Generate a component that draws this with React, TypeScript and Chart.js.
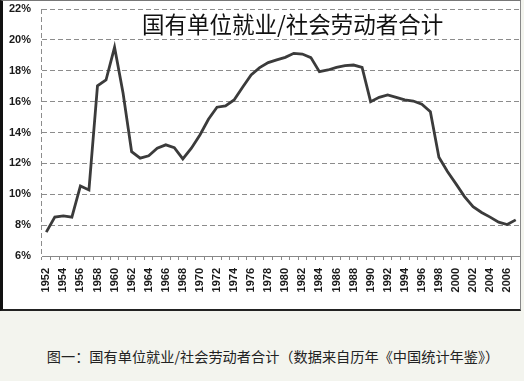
import React, { useEffect, useRef } from "react";
import { Chart, registerables } from "chart.js";

Chart.register(...registerables);

const TITLE = "国有单位就业/社会劳动者合计";
const CAPTION = "图一：国有单位就业/社会劳动者合计（数据来自历年《中国统计年鉴》）";

const years = [
  "1952", "1953", "1954", "1955", "1956", "1957", "1958", "1959", "1960", "1961",
  "1962", "1963", "1964", "1965", "1966", "1967", "1968", "1969", "1970", "1971",
  "1972", "1973", "1974", "1975", "1976", "1977", "1978", "1979", "1980", "1981",
  "1982", "1983", "1984", "1985", "1986", "1987", "1988", "1989", "1990", "1991",
  "1992", "1993", "1994", "1995", "1996", "1997", "1998", "1999", "2000", "2001",
  "2002", "2003", "2004", "2005", "2006", "2007",
];

const shares = [
  7.55, 8.52, 8.6, 8.52, 10.54, 10.28, 17.02, 17.4, 19.52, 16.54,
  12.76, 12.34, 12.49, 12.98, 13.2, 13.02, 12.29, 12.98, 13.84, 14.86,
  15.64, 15.72, 16.11, 16.93, 17.73, 18.2, 18.53, 18.7, 18.87, 19.13,
  19.08, 18.85, 17.94, 18.05, 18.22, 18.33, 18.37, 18.22, 16.0, 16.28,
  16.43, 16.28, 16.11, 16.04, 15.83, 15.35, 12.4, 11.47, 10.67, 9.85,
  9.2, 8.82, 8.52, 8.19, 8.04, 8.34,
];

const yMin = 6;
const yMax = 22;
const yStep = 2;

export default function App() {
  const canvasRef = useRef<HTMLCanvasElement | null>(null);

  useEffect(() => {
    if (!canvasRef.current) return;
    const chart = new Chart(canvasRef.current, {
      type: "line",
      data: {
        labels: years,
        datasets: [
          {
            data: shares,
            borderColor: "#3b3b3b",
            borderWidth: 2.8,
            pointRadius: 0,
            tension: 0,
            fill: false,
          },
        ],
      },
      options: {
        animation: false,
        responsive: true,
        maintainAspectRatio: false,
        layout: { padding: { top: 0, right: 0, bottom: 0, left: 0 } },
        plugins: {
          legend: { display: false },
          tooltip: { enabled: false },
          title: { display: false },
        },
        scales: {
          x: {
            type: "category",
            offset: true,
            grid: {
              offset: true,
              drawOnChartArea: true,
              drawTicks: true,
              tickLength: 4,
              color: (ctx: any) => (ctx.index === 0 ? "#8c8c8c" : "rgba(0,0,0,0)"),
              tickColor: "#888",
              tickBorderDash: [],
            },
            border: { color: "#888", width: 1, dash: [5, 3] },
            ticks: {
              autoSkip: false,
              minRotation: 90,
              maxRotation: 90,
              padding: 8,
              color: "#1a1a1a",
              font: { family: "'Liberation Sans', Arial, sans-serif", size: 11, weight: "bold" },
              callback: (_v: any, i: number) => (i % 2 === 0 ? years[i] : ""),
            },
            afterFit: (scale: any) => {
              scale.height = 53;
              scale.paddingLeft = 0;
              scale.paddingRight = 0;
            },
          },
          y: {
            min: yMin,
            max: yMax,
            grid: {
              color: "#8c8c8c",
              drawTicks: false,
            },
            border: { display: false, color: "#8c8c8c", dash: [5, 3], width: 1 },
            ticks: {
              stepSize: yStep,
              padding: 11,
              color: "#1a1a1a",
              font: { family: "'Liberation Sans', Arial, sans-serif", size: 11, weight: "bold" },
              callback: (v: any) => `${v}%`,
            },
            afterFit: (scale: any) => {
              scale.width = 39;
              scale.paddingTop = 8;
              scale.paddingBottom = 0;
            },
          },
        },
      } as any,
    });
    return () => chart.destroy();
  }, []);

  return (
    <div
      style={{
        position: "fixed",
        left: 0,
        top: 0,
        width: 524,
        height: 381,
        background: "#f3f4ee",
        overflow: "hidden",
      }}
    >
      <div
        style={{
          position: "absolute",
          left: 0,
          top: 0,
          width: 521,
          height: 311,
          boxSizing: "border-box",
          background: "#ffffff",
          borderLeft: "3px solid #111",
          borderBottom: "2px solid #222",
          borderTop: "1px solid #777",
          borderRight: "1px solid #888",
        }}
      >
        <div style={{ position: "relative", width: 517, height: 308 }}>
          <canvas ref={canvasRef} />
        </div>
        <div
          style={{
            position: "absolute",
            left: 139,
            top: 10,
            width: 300,
            textAlign: "center",
            fontFamily: "'Noto Sans CJK SC', sans-serif",
            fontSize: 22.5,
            lineHeight: "24px",
            color: "#111",
            whiteSpace: "nowrap",
          }}
        >
          {TITLE}
        </div>
      </div>
      <div
        style={{
          position: "absolute",
          left: 11,
          top: 348,
          width: 524,
          textAlign: "center",
          fontFamily: "'Noto Sans CJK SC', sans-serif",
          fontSize: 14.2,
          lineHeight: "17px",
          color: "#222",
          whiteSpace: "nowrap",
        }}
      >
        {CAPTION}
      </div>
    </div>
  );
}
